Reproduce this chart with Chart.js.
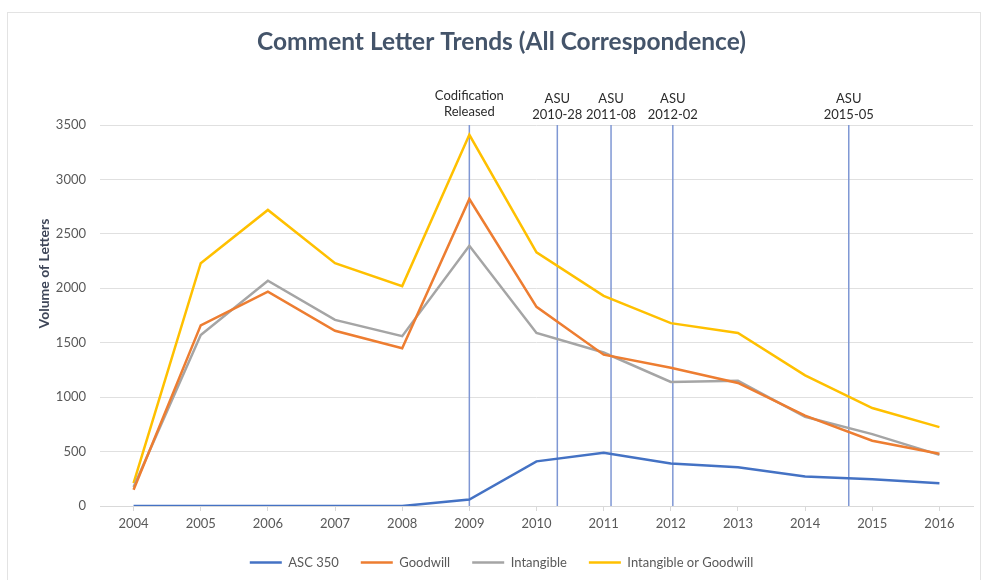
<!DOCTYPE html>
<html>
  <head>
    <title>Comment Letter Trends</title>
    <meta charset="utf-8" />
    <style>
      html, body { margin: 0; padding: 0; background: #ffffff; }
      #chart-container { position: relative; width: 983px; height: 580px; }
    </style>
  </head>
  <body>
    <div id="chart-container">
      <canvas id="trend-chart"></canvas>
    </div>

    <script src="https://cdn.jsdelivr.net/npm/chart.js"></script>
    <script>
      var years = ["2004", "2005", "2006", "2007", "2008", "2009", "2010", "2011", "2012", "2013", "2014", "2015", "2016"];
      var asc350 = [0, 0, 0, 0, 0, 60, 410, 490, 390, 355, 270, 245, 210];
      var goodwill = [150, 1660, 1970, 1610, 1450, 2820, 1830, 1390, 1270, 1130, 830, 600, 480];
      var intangible = [175, 1570, 2070, 1710, 1560, 2390, 1590, 1410, 1140, 1150, 820, 660, 470];
      var intangibleOrGoodwill = [210, 2230, 2720, 2230, 2020, 3410, 2330, 1930, 1680, 1590, 1200, 900, 725];

      // events marked with vertical lines (position in years)
      var eventYears = [2009, 2010.31, 2011.11, 2012.03, 2014.65];
      var eventLabels = [
        ["Codification", "Released"],
        ["ASU", "2010-28"],
        ["ASU", "2011-08"],
        ["ASU", "2012-02"],
        ["ASU", "2015-05"],
      ];
      var yTitle = "Volume of Letters";

      var font = "Lato, 'Open Sans', sans-serif";

      var frame = {
        id: "frame",
        beforeDraw: function (chart) {
          var ctx = chart.ctx;
          ctx.save();
          ctx.strokeStyle = "#e3e3e3";
          ctx.lineWidth = 1;
          ctx.strokeRect(7.5, 12.5, 973, 620);
          ctx.restore();
        },
        afterDraw: function (chart) {
          // axis title sits above the middle of the axis, like the original
          var ctx = chart.ctx;
          ctx.save();
          ctx.translate(44, 273.5);
          ctx.rotate(-Math.PI / 2);
          ctx.fillStyle = "#3e4658";
          ctx.font = "bold 14px " + font;
          ctx.textAlign = "center";
          ctx.textBaseline = "middle";
          ctx.fillText(yTitle, 0, 0);
          ctx.restore();
        },
      };

      var eventLines = {
        id: "eventLines",
        beforeDatasetsDraw: function (chart) {
          var ctx = chart.ctx;
          var x = chart.scales.x;
          var area = chart.chartArea;
          ctx.save();
          ctx.strokeStyle = "#7f97d4";
          ctx.lineWidth = 1.5;
          eventYears.forEach(function (yr) {
            var px = x.getPixelForValue(yr - 2004);
            ctx.beginPath();
            ctx.moveTo(px, area.top);
            ctx.lineTo(px, area.bottom);
            ctx.stroke();
          });
          ctx.restore();
        },
        afterDraw: function (chart) {
          var ctx = chart.ctx;
          var x = chart.scales.x;
          ctx.save();
          ctx.fillStyle = "#2b2b2b";
          ctx.font = "13px " + font;
          ctx.textAlign = "center";
          ctx.textBaseline = "middle";
          eventYears.forEach(function (yr, i) {
            var px = x.getPixelForValue(yr - 2004);
            var top = i === 0 ? 96 : 99;
            eventLabels[i].forEach(function (line, j) {
              ctx.fillText(line, px, top + j * 16);
            });
          });
          ctx.restore();
        },
      };

      function series(label, data, color) {
        return {
          label: label,
          data: data,
          borderColor: color,
          backgroundColor: color,
          borderWidth: 2.5,
          pointRadius: 0,
          tension: 0,
          fill: false,
        };
      }

      new Chart(document.getElementById("trend-chart"), {
        type: "line",
        data: {
          labels: years,
          datasets: [
            series("ASC 350", asc350, "#4472c4"),
            series("Goodwill", goodwill, "#ed7d31"),
            series("Intangible", intangible, "#a5a5a5"),
            series("Intangible or Goodwill", intangibleOrGoodwill, "#ffc000"),
          ],
        },
        options: {
          responsive: true,
          maintainAspectRatio: false,
          animation: false,
          layout: { padding: { left: 30, right: 10, top: 0, bottom: 1 } },
          plugins: {
            title: {
              display: true,
              text: "Comment Letter Trends (All Correspondence)",
              color: "#44546a",
              font: { family: font, size: 24.5, weight: "bold" },
              padding: { top: 27.3, bottom: 68.3 },
            },
            legend: {
              position: "bottom",
              labels: {
                usePointStyle: true,
                pointStyle: "line",
                pointStyleWidth: 32,
                padding: 22,
                color: "#595959",
                font: { family: font, size: 13 },
              },
            },
            tooltip: { enabled: false },
          },
          scales: {
            x: {
              offset: true,
              afterFit: function (scale) { scale.height = 28; },
              grid: { drawOnChartArea: false, tickLength: 5, color: "#d9d9d9" },
              border: { color: "#d9d9d9" },
              ticks: { color: "#595959", padding: 5, font: { family: font, size: 13 } },
            },
            y: {
              min: 0,
              max: 3500,
              afterFit: function (scale) { scale.width = 70; },
              grid: { color: "#e0e0e0", drawTicks: false },
              border: { display: false },
              ticks: {
                stepSize: 500,
                color: "#595959",
                padding: 14,
                font: { family: font, size: 13 },
                callback: function (value) { return String(value); },
              },
            },
          },
        },
        plugins: [frame, eventLines],
      });
    </script>
  </body>
</html>
